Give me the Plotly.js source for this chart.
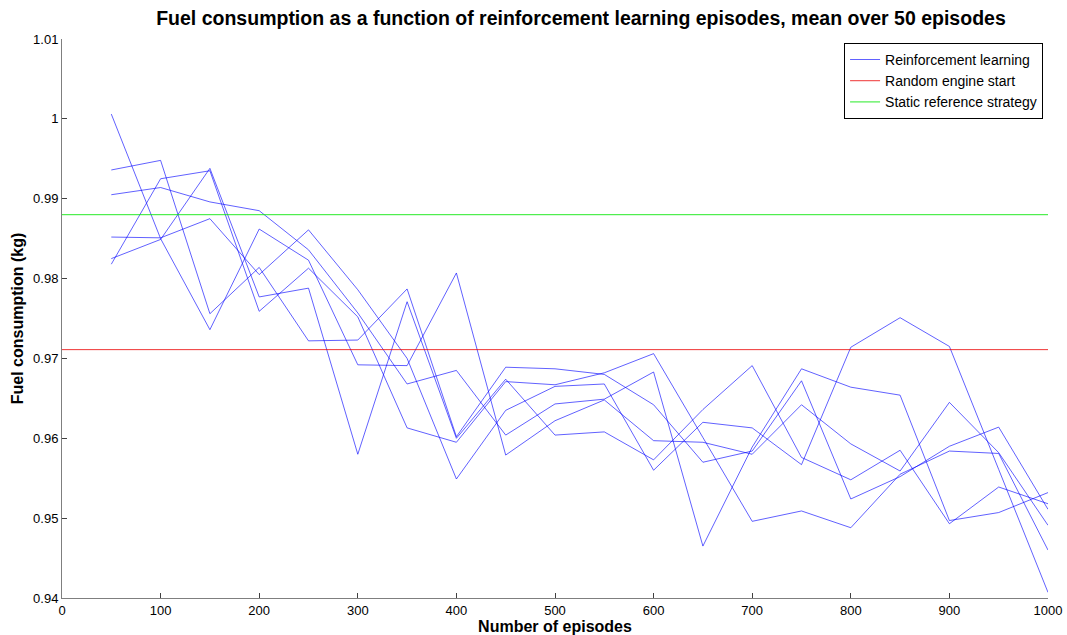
<!DOCTYPE html>
<html>
<head>
<meta charset="utf-8">
<script src="https://cdn.plot.ly/plotly-3.0.1.min.js"></script>
<style>html,body{margin:0;padding:0;background:#fff;}#chart{width:1067px;height:635px;}</style>
</head>
<body>
<div id="chart"></div>
<script>
// Episodes (x values)
const episodes = [50,100,150,200,250,300,350,400,450,500,550,600,650,700,750,800,850,900,950,1000];

// Reinforcement learning runs (mean fuel consumption, kg)
const rlRunA = [1.0006,0.9850,0.9736,0.9862,0.9823,0.9692,0.9691,0.9807,0.9579,0.9622,0.9648,0.9597,0.9595,0.9580,0.9642,0.9593,0.9559,0.9645,0.9582,0.9491];
const rlRunB = [0.9936,0.9948,0.9756,0.9814,0.9722,0.9723,0.9787,0.9602,0.9689,0.9687,0.9680,0.9642,0.9570,0.9584,0.9672,0.9524,0.9552,0.9590,0.9614,0.9511];
const rlRunC = [0.9905,0.9914,0.9896,0.9885,0.9836,0.9757,0.9668,0.9685,0.9604,0.9643,0.9649,0.9683,0.9465,0.9589,0.9687,0.9664,0.9654,0.9497,0.9507,0.9532];
const rlRunD = [0.9852,0.9851,0.9875,0.9805,0.9861,0.9786,0.9700,0.9549,0.9635,0.9665,0.9668,0.9560,0.9620,0.9613,0.9567,0.9714,0.9751,0.9715,0.9561,0.9407];
const rlRunE = [0.9825,0.9849,0.9938,0.9777,0.9788,0.9580,0.9771,0.9600,0.9674,0.9604,0.9608,0.9573,0.9636,0.9691,0.9576,0.9548,0.9585,0.9493,0.9539,0.9518];
const rlRunF = [0.9818,0.9925,0.9935,0.9759,0.9813,0.9752,0.9613,0.9595,0.9671,0.9667,0.9682,0.9706,0.9601,0.9496,0.9509,0.9488,0.9555,0.9584,0.9581,0.9460];

// Reference levels
const refX = [0, 1000];
const randomEngineStart = 0.9711;
const staticReference = 0.988;

const seriesNames = ["Reinforcement learning","Random engine start","Static reference strategy"];

const blue = 'rgba(0,0,255,0.62)';
const runs = [rlRunA, rlRunB, rlRunC, rlRunD, rlRunE, rlRunF];

const traces = runs.map((ys, i) => ({
  x: episodes, y: ys, type: 'scatter', mode: 'lines',
  line: {color: blue, width: 1},
  name: seriesNames[0], showlegend: i === 0, legendgroup: 'rl'
}));

traces.push({
  x: refX, y: [randomEngineStart, randomEngineStart], type: 'scatter', mode: 'lines',
  line: {color: 'rgba(235,0,0,0.8)', width: 1}, name: seriesNames[1]
});
traces.push({
  x: refX, y: [staticReference, staticReference], type: 'scatter', mode: 'lines',
  line: {color: 'rgba(0,230,0,0.85)', width: 1}, name: seriesNames[2]
});

const fontFam = 'Liberation Sans, Arial, sans-serif';

const layout = {
  width: 1067, height: 635,
  margin: {l: 62, r: 19, t: 39, b: 37, pad: 0},
  paper_bgcolor: '#fff', plot_bgcolor: '#fff',
  font: {family: fontFam, size: 13, color: '#000'},
  title: {
    text: '<b>Fuel consumption as a function of reinforcement learning episodes, mean over 50 episodes</b>',
    font: {family: fontFam, size: 19.5, color: '#000'},
    x: 0.5445, xanchor: 'center', y: 0.971, yanchor: 'middle'
  },
  xaxis: {
    range: [0, 1000], dtick: 100, tick0: 0,
    showgrid: false, zeroline: false,
    showline: true, linecolor: '#7f7f7f', linewidth: 1,
    ticks: 'inside', ticklen: 5, tickcolor: '#404040',
    tickfont: {family: fontFam, size: 13, color: '#000'},
    title: {text: '<b>Number of episodes</b>', font: {family: fontFam, size: 16, color: '#000'}, standoff: 1}
  },
  yaxis: {
    range: [0.94, 1.01], dtick: 0.01, tick0: 0.94,
    showgrid: false, zeroline: false,
    showline: true, linecolor: '#7f7f7f', linewidth: 1,
    ticks: 'inside', ticklen: 5, tickcolor: '#404040',
    tickfont: {family: fontFam, size: 13, color: '#000'},
    title: {text: '<b>Fuel consumption (kg)</b>', font: {family: fontFam, size: 16, color: '#000'}, standoff: 5}
  },
  legend: {
    x: 0.995, xanchor: 'right', y: 0.993, yanchor: 'top',
    bgcolor: '#fff', bordercolor: '#000', borderwidth: 1,
    font: {family: fontFam, size: 14, color: '#000'},
    tracegroupgap: 0, itemwidth: 30
  },
  showlegend: true,
  hovermode: false
};

Plotly.newPlot('chart', traces, layout, {displayModeBar: false, staticPlot: true});
</script>
</body>
</html>
